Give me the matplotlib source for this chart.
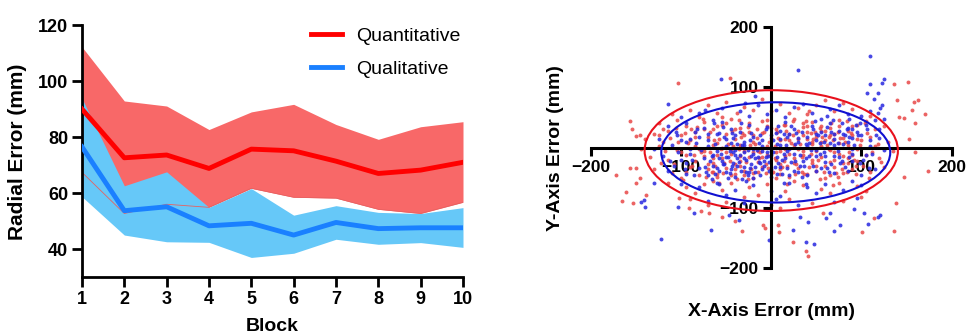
import matplotlib
matplotlib.use("Agg")
import matplotlib.pyplot as plt
from matplotlib.patches import Ellipse

plt.rcParams['font.family'] = ['Liberation Sans', 'DejaVu Sans']

# ---- left panel: radial error per block ----
blocks = [1, 2, 3, 4, 5, 6, 7, 8, 9, 10]
quant_mean = [90.0, 72.6, 73.6, 68.8, 75.7, 75.1, 71.4, 67.0, 68.2, 71.0]
quant_hi = [112.2, 92.9, 91.1, 82.7, 89.0, 91.7, 84.5, 79.2, 83.7, 85.5]
quant_lo = [67.4, 52.7, 56.0, 54.9, 61.7, 58.5, 58.2, 54.2, 52.7, 56.7]
qual_mean = [76.5, 53.7, 55.1, 48.3, 49.2, 45.0, 49.5, 47.3, 47.6, 47.6]
qual_hi = [93.8, 62.6, 67.6, 54.9, 61.6, 52.1, 55.5, 53.1, 52.7, 54.8]
qual_lo = [58.7, 45.0, 42.6, 42.4, 37.0, 38.5, 43.5, 41.7, 42.3, 40.6]

# ---- right panel: x/y error scatter ----
red_pts = [
    (-90, 62), (-70, 70), (-50, 75), (-30, 68), (-10, 80), (10, 72), (30, 66), (50, 70), (70, 60), (90, 64),
    (-110, 55), (110, 52), (-60, 58), (20, 58), (-20, 62), (60, 78), (0, 60), (80, 74), (-80, 50), (40, 55),
    (-125, 40), (-105, 45), (-95, 36), (-75, 42), (-55, 38), (-45, 48), (-25, 40), (-5, 45), (15, 38), (25, 48),
    (45, 42), (55, 35), (75, 45), (95, 38), (105, 44), (125, 36), (-65, 30), (-35, 32), (5, 30), (35, 34),
    (65, 32), (85, 28), (115, 30), (-115, 28), (-85, 25),
    (-140, 15), (-120, 10), (-100, 20), (-90, 12), (-70, 18), (-60, 8), (-50, 22), (-40, 14), (-30, 20), (-20, 10),
    (-10, 24), (0, 16), (10, 12), (20, 22), (30, 15), (40, 25), (50, 18), (60, 12), (70, 22), (80, 16),
    (90, 20), (100, 12), (110, 18), (130, 10), (-130, 22), (45, 10), (55, 28), (65, 20), (75, 8), (35, 20),
    (-145, -2), (-125, 3), (-105, -4), (-85, 2), (-75, -6), (-65, 4), (-45, -3), (-35, 5), (-15, -5), (-5, 2),
    (15, -2), (25, 4), (35, -6), (55, 3), (65, -4), (85, 5), (95, -3), (115, 2), (135, -5), (-55, 0), (5, -8), (45, 6),
    (-135, -15), (-115, -20), (-95, -12), (-85, -22), (-75, -14), (-65, -25), (-55, -18), (-45, -10), (-35, -22),
    (-25, -15), (-15, -24), (-5, -12), (5, -20), (15, -14), (25, -25), (35, -12), (45, -20), (55, -16), (65, -24),
    (75, -10), (85, -18), (95, -22), (105, -12), (120, -18), (-60, -12), (-40, -28), (-20, -8), (10, -28),
    (-130, -35), (-110, -42), (-90, -32), (-80, -45), (-70, -36), (-60, -48), (-50, -34), (-40, -44), (-30, -38),
    (-20, -50), (-10, -32), (0, -42), (10, -36), (20, -48), (30, -34), (40, -44), (50, -38), (60, -50), (70, -32),
    (80, -42), (90, -36), (110, -40), (125, -32), (-100, -50), (-65, -40), (-35, -30),
    (-115, -58), (-95, -65), (-75, -60), (-55, -70), (-45, -58), (-25, -66), (-5, -60), (15, -72), (35, -62),
    (55, -68), (75, -58), (95, -64), (105, -72), (-85, -75), (-15, -78), (25, -56), (65, -76), (-65, -56),
    (-90, -85), (-50, -90), (-30, -82), (0, -95), (20, -86), (45, -92), (80, -88), (100, -82), (-70, -95), (10, -100),
    (136, 106), (152, 109), (140, 79), (158, 76), (163, 79), (156, 62), (171, 55), (142, 50), (147, 49), (159, 41),
    (153, 14), (160, -8), (174, -38), (147, -48), (138, -91), (136, -138), (101, -140), (8, -128), (9, -140),
    (24, -156), (39, -172), (41, -179), (57, -109), (114, -117),
    (-172, -45), (-161, -73), (-166, -89), (-153, -91), (-150, -34), (-157, -34), (-146, -51), (-150, -59),
    (-139, -79), (-102, -84), (-91, -100), (-78, -105), (-69, -109), (-55, -115), (-40, -122), (-33, -138),
    (-9, -128), (-7, -133), (-104, 107), (-46, 116), (-157, 44), (-146, 21), (-155, 30), (-150, 19),
    (-120, 30), (-124, 21), (-89, 30),
    # dense core
    (-92, 8), (-88, -30), (-82, 34), (-78, -8), (-72, -48), (-68, 26), (-62, -30), (-58, 14), (-54, -42), (-50, 40),
    (-46, -22), (-42, 2), (-38, -52), (-34, 18), (-30, -6), (-26, 34), (-22, -36), (-18, 6), (-14, -18), (-10, 44),
    (-6, -28), (-2, 10), (2, -40), (6, 26), (10, -6), (14, 38), (18, -30), (22, 8), (26, -44), (30, 28),
    (34, -16), (38, 44), (42, -32), (46, 14), (50, -6), (54, 32), (58, -40), (62, 4), (66, 40), (70, -20),
    (74, 26), (78, -36), (82, 10), (86, -8), (90, 36), (94, -30), (98, 4),
    (-95, -40), (-85, 18), (-75, 30), (-65, -18), (-55, 50), (-45, -46), (-35, -14), (-25, 26), (-15, -40), (-5, 36),
    (5, -50), (15, 14), (25, -18), (35, 40), (45, -26), (55, 10), (65, -46), (75, 36), (85, -26), (95, 14),
    (-80, -2), (-70, -28), (-60, 36), (-50, -8), (-40, 30), (-30, -46), (-20, 20), (-10, -16), (0, 32), (10, -44),
    (20, 12), (30, -2), (40, 36), (50, -30), (60, 28), (70, -8), (80, -26), (90, -12),
    (-96, 24), (-86, -12), (-76, 48), (-66, -40), (-56, -2), (-36, 46), (-26, -52), (-16, 30), (-6, -42), (4, 2),
    (14, -22), (24, 44), (34, -40), (44, 24), (54, -52), (64, 18), (74, -48), (84, 44), (94, -44),
    (-68, -8), (-64, 12), (-60, -44), (-52, -26), (-48, 6), (-44, 28), (-40, -36), (-36, -2), (-32, 24), (-28, -24),
    (-24, 4), (-20, -42), (-16, 16), (-12, -8), (-8, 26), (-4, -34), (0, 0), (4, -18), (8, 16), (12, -32),
    (16, 28), (20, -10), (24, 20), (28, -28), (32, 6), (36, -44), (40, 14), (44, -10), (48, 26), (52, -20),
    (56, 18), (60, -30), (64, -2), (68, 12), (72, -42), (76, 16), (80, -14), (84, -40), (88, 24), (92, -20),
    (-108, -28), (-104, 10), (-100, -8), (-112, 16), (-118, -6), (-122, -26), (-106, 32), (-98, -54), (102, -30),
    (106, 24), (112, -8), (118, 6), (108, -50), (122, -24), (104, 40), (-58, -58), (-38, 58), (18, -60), (42, 60),
    (68, -62),
]
blue_pts = [
    (-80, 58), (-55, 65), (-35, 60), (-15, 70), (5, 62), (25, 68), (45, 58), (65, 64), (85, 56), (-100, 50),
    (100, 52), (-25, 52), (15, 50), (35, 72), (55, 48), (-65, 45), (-5, 55), (75, 70),
    (-115, 35), (-95, 40), (-75, 32), (-55, 42), (-45, 30), (-25, 38), (-5, 34), (15, 42), (25, 30), (45, 36),
    (65, 40), (85, 32), (105, 38), (120, 30), (-85, 25), (-35, 26), (5, 24), (55, 26), (95, 26), (115, 45),
    (110, 60), (118, 58), (125, 48),
    (-125, 15), (-105, 20), (-95, 10), (-80, 18), (-70, 12), (-60, 22), (-50, 14), (-40, 20), (-30, 10), (-20, 18),
    (-10, 12), (0, 20), (10, 14), (20, 22), (30, 10), (40, 18), (50, 12), (60, 20), (70, 14), (80, 22),
    (90, 16), (100, 20), (110, 12), (120, 16), (75, 28), (85, 10), (65, 8),
    (-130, -3), (-110, 4), (-90, -2), (-70, 3), (-60, -5), (-50, 2), (-40, -4), (-30, 5), (-20, -2), (-10, 3),
    (0, -5), (10, 4), (20, -3), (40, 2), (50, -4), (70, 5), (90, -2), (110, 3), (125, -4), (-5, -8), (-45, 8),
    (-120, -14), (-100, -20), (-90, -10), (-75, -18), (-65, -12), (-55, -22), (-48, -15), (-42, -25), (-35, -12),
    (-28, -20), (-22, -28), (-15, -15), (-8, -22), (0, -12), (8, -26), (15, -18), (25, -10), (35, -22), (50, -14),
    (60, -24), (75, -16), (90, -22), (105, -12), (-38, -18), (-52, -28), (-30, -32), (-45, -35),
    (-115, -38), (-95, -44), (-80, -34), (-70, -46), (-58, -38), (-40, -48), (-25, -40), (-12, -46), (0, -36),
    (12, -44), (25, -38), (40, -46), (55, -34), (70, -42), (85, -38), (100, -46), (115, -36), (-65, -30),
    (-18, -32), (32, -30),
    (-100, -60), (-80, -66), (-60, -58), (-40, -70), (-20, -62), (0, -72), (20, -58), (40, -66), (60, -60),
    (80, -70), (100, -62), (-50, -78), (10, -80), (50, -76), (90, -56),
    (-70, -88), (-30, -92), (5, -86), (30, -95), (70, -90), (95, -84),
    (110, 152), (30, 129), (125, 113), (123, 107), (109, 105), (106, 91), (118, 90), (114, 80), (123, 70), (121, 65),
    (47, -160), (39, -157), (70, -138), (76, -129), (121, -111), (118, -115), (107, -126), (24, -137), (32, -115),
    (41, -124), (61, -117), (65, -109), (103, -109), (92, -101),
    (-122, -152), (-141, -87), (-140, -98), (-144, -90), (-130, -58), (-104, -98), (-86, -109), (-67, -137),
    (-47, -112), (-36, -120), (-3, -153), (-115, 72), (-56, 113), (-73, 62), (-29, 74), (-18, 85),
    # dense core
    (-95, -26), (-90, 14), (-86, -46), (-82, 30), (-78, -4), (-74, -32), (-70, 22), (-66, -52), (-62, 6), (-58, -18),
    (-54, 34), (-50, -40), (-46, -6), (-42, 16), (-38, -30), (-34, 40), (-30, -8), (-26, -46), (-22, 24), (-18, -18),
    (-14, 8), (-10, -36), (-6, 30), (-2, -24), (2, 12), (6, -44), (10, 28), (14, -10), (18, -34), (22, 36),
    (26, -22), (30, 16), (34, -48), (38, 6), (42, -14), (46, 30), (50, -38), (54, 8), (58, -8), (62, 34),
    (66, -28), (70, 22), (74, -6), (78, 40), (82, -32), (86, 18), (90, -10), (94, 38), (98, -26),
    (-88, -20), (-72, -40), (-64, 40), (-56, -10), (-48, -50), (-44, 24), (-36, -24), (-32, 4), (-28, -40), (-24, 12),
    (-20, -50), (-16, -4), (-12, 20), (-8, -30), (-4, -14), (4, -32), (8, 36), (12, -20), (16, 4), (20, -46),
    (28, 24), (36, -30), (44, -4), (52, 20), (60, -14), (68, 46), (76, -26), (84, 30), (92, 4),
    (-60, -34), (-52, 18), (-40, -12), (-32, -52), (-20, -10), (-12, -26), (0, -48), (6, -16), (18, 18), (32, -12),
    (48, 44), (64, -40), (80, 6), (96, 20), (-84, 8), (-68, -22), (-44, -30), (-24, -34),
    (-66, -14), (-62, -44), (-58, 24), (-54, -28), (-50, -16), (-46, -42), (-42, -8), (-38, 6), (-34, -38), (-30, -18),
    (-26, -4), (-22, -14), (-18, -40), (-14, -24), (-10, -6), (-6, -16), (-2, -38), (2, -8), (6, 6), (10, -32),
    (14, 22), (18, -6), (22, -24), (26, 6), (30, -40), (34, 26), (38, -18), (42, 8), (46, -30), (50, 22),
    (54, -10), (58, 10), (62, -34), (66, 26), (70, -14), (74, 8), (78, -22), (82, 20), (86, -16), (90, 30),
    (-104, -8), (-108, -30), (-100, 12), (-112, -22), (-96, -36), (-106, 26), (102, -20), (106, 30), (112, -10),
    (98, 40), (108, -34), (116, 20), (-58, -60), (-28, -56), (14, -58), (38, -60), (62, 52), (86, 48),
]
red_ell = (0, -5, 281, 200)    # centre x, centre y, width, height
blue_ell = (5, -8, 254, 166)

red_line = '#FF0000'
blue_line = '#1A80FF'

fig = plt.figure(figsize=(9.68, 3.35), dpi=100)

ax1 = fig.add_axes([0.0847, 0.173, 0.3936, 0.752])
ax1.fill_between(blocks, quant_lo, quant_hi, color='#F86868', lw=0, zorder=1)
ax1.fill_between(blocks, qual_lo, qual_hi, color='#66C8F8', lw=0, zorder=2)
ax1.plot(blocks, quant_lo, color='#E86060', lw=0.6, zorder=2.2)
ax1.plot(blocks, quant_mean, color=red_line, lw=3.5, label='Quantitative', zorder=3)
ax1.plot(blocks, qual_mean, color=blue_line, lw=3.5, label='Qualitative', zorder=3)
ax1.set_xlim(1, 10)
ax1.set_ylim(30, 120)
ax1.set_xticks(blocks)
ax1.set_yticks([40, 60, 80, 100, 120])
for s in ['top', 'right']:
    ax1.spines[s].set_visible(False)
for s in ['left', 'bottom']:
    ax1.spines[s].set_linewidth(2)
ax1.tick_params(direction='out', length=7, width=2, labelsize=13, pad=3)
for t in ax1.get_xticklabels() + ax1.get_yticklabels():
    t.set_fontweight('bold')
ax1.text(-0.168, 0.496, 'Radial Error (mm)', transform=ax1.transAxes, rotation=90,
         ha='center', va='center', fontsize=15, fontweight='bold')
ax1.text(0.5, -0.163, 'Block', transform=ax1.transAxes, ha='center', va='top',
         fontsize=14, fontweight='bold')
ax1.legend(loc='upper left', bbox_to_anchor=(0.555, 1.06), frameon=False, fontsize=14,
           handlelength=1.6, labelspacing=0.8, handletextpad=0.7)

ax2 = fig.add_axes([0.6105, 0.199, 0.3725, 0.721])
rx, ry = zip(*red_pts)
bx, by = zip(*blue_pts)
ax2.scatter(rx, ry, s=8, color='#E84848', alpha=0.85, lw=0, zorder=3)
ax2.scatter(bx, by, s=8, color='#2828E0', alpha=0.85, lw=0, zorder=3.1)
ax2.add_patch(Ellipse(red_ell[:2], red_ell[2], red_ell[3], fill=False, ec='#E8101C', lw=1.5, zorder=4))
ax2.add_patch(Ellipse(blue_ell[:2], blue_ell[2], blue_ell[3], fill=False, ec='#1010D0', lw=1.5, zorder=4))
ax2.set_xlim(-200, 200)
ax2.set_ylim(-200, 200)
ax2.spines['left'].set_position(('data', 0))
ax2.spines['bottom'].set_position(('data', 0))
for s in ['top', 'right']:
    ax2.spines[s].set_visible(False)
for s in ['left', 'bottom']:
    ax2.spines[s].set_linewidth(2.2)
    ax2.spines[s].set_zorder(3.5)
ax2.set_xticks([-200, -100, 100, 200])
ax2.set_yticks([-200, -100, 100, 200])
ax2.tick_params(direction='out', length=6, width=2.2, labelsize=12.5, pad=3)
for t in ax2.get_xticklabels() + ax2.get_yticklabels():
    t.set_fontweight('bold')
ax2.text(-0.099, 0.5, 'Y-Axis Error (mm)', transform=ax2.transAxes, rotation=90,
         ha='center', va='center', fontsize=14, fontweight='bold')
ax2.text(0.5, -0.144, 'X-Axis Error (mm)', transform=ax2.transAxes, ha='center', va='top',
         fontsize=14, fontweight='bold')

fig.savefig('out.png', dpi=100)
